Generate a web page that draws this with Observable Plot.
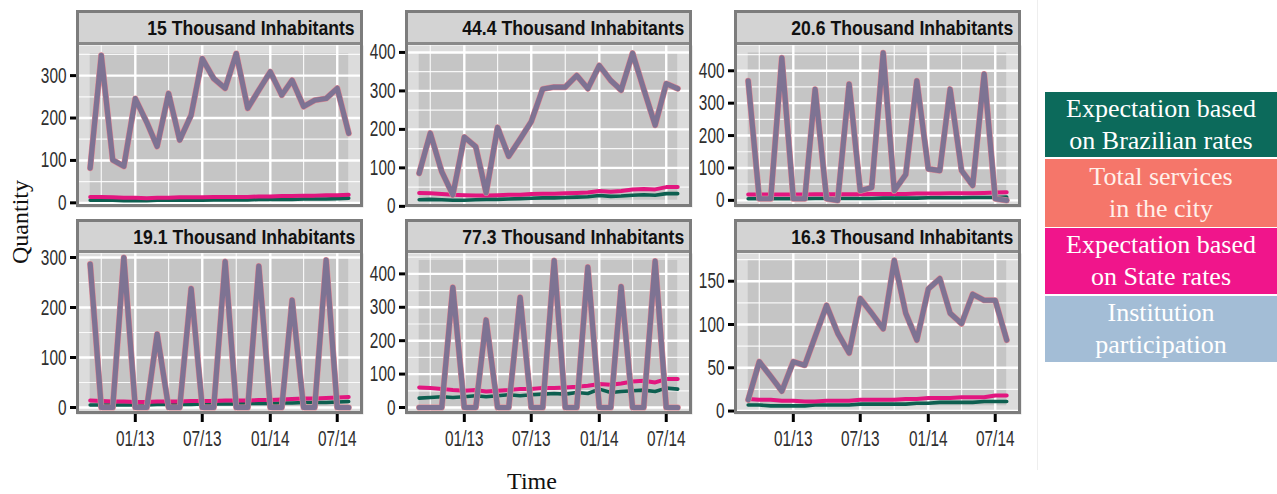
<!DOCTYPE html>
<html><head><meta charset="utf-8">
<script src="https://cdn.jsdelivr.net/npm/d3@7"></script>
<script src="https://cdn.jsdelivr.net/npm/@observablehq/plot@0.6"></script>
<style>
html,body{margin:0;padding:0;background:#fff}
body{width:1277px;height:494px;position:relative;overflow:hidden;font-family:"Liberation Sans",Arial,sans-serif}
.abs{position:absolute}
.frame{position:absolute;border:3px solid #7c7c7c;box-sizing:border-box;pointer-events:none}
.strip{position:absolute;background:#d3d3d3;box-sizing:border-box;border-bottom:3px solid #8a8a8a;text-align:right;font-weight:bold;font-size:20px;color:#111;white-space:nowrap;overflow:hidden}
.strip span{display:inline-block;transform:scaleX(0.88);transform-origin:right center}
.leg{position:absolute;left:1045px;width:232px;display:flex;align-items:center;justify-content:center;text-align:center;font-family:"Liberation Serif","Times New Roman",serif;font-size:26px;line-height:32px;color:#fff}
.title{position:absolute;font-family:"Liberation Serif","Times New Roman",serif;font-size:24px;color:#111;white-space:nowrap}
</style>
</head><body>
<script>
// ---------------- data ----------------
const months = ["2012-09","2012-10","2012-11","2012-12","2013-01","2013-02","2013-03","2013-04","2013-05","2013-06","2013-07","2013-08",
                "2013-09","2013-10","2013-11","2013-12","2014-01","2014-02","2014-03","2014-04","2014-05","2014-06","2014-07","2014-08"];
const panelTitles = ["15 Thousand Inhabitants","44.4 Thousand Inhabitants","20.6 Thousand Inhabitants",
                     "19.1 Thousand Inhabitants","77.3 Thousand Inhabitants","16.3 Thousand Inhabitants"];
const seriesNames = ["Expectation based on Brazilian rates","Total services in the city","Expectation based on State rates","Institution participation"];
const xTickLabels = ["01/13","07/13","01/14","07/14"];
const xTickMonths = ["2013-01","2013-07","2014-01","2014-07"];
const xMinorMonths = ["2012-10","2013-04","2013-10","2014-04"];

// Total services in the city (institution participation overlaps it)
const total15 = [82,348,101,86,246,190,133,258,148,207,340,293,270,352,223,266,309,254,289,227,242,246,270,164];
const total44 = [86,190,90,30,180,155,35,205,130,175,220,305,310,310,340,306,366,327,302,398,305,211,319,306];
const total20 = [369,5,5,440,5,5,343,5,0,359,30,40,455,30,80,369,97,92,343,92,46,390,5,0];
const total19 = [287,0,0,300,0,0,147,0,0,238,0,0,292,0,0,283,0,0,215,0,0,295,0,0];
const total77 = [0,0,0,360,0,0,262,0,0,330,0,0,440,0,0,420,0,0,362,0,0,438,0,0];
const total16 = [13,57,40,23,57,53,86,122,90,67,130,113,95,174,113,82,141,153,113,101,135,128,128,82];
const inst15 = [82,348,101,86,246,190,133,258,148,207,340,293,270,352,223,266,309,254,289,227,242,246,270,164];
const inst44 = [86,190,90,30,180,155,35,205,130,175,220,305,310,310,340,306,366,327,302,398,305,211,319,306];
const inst20 = [369,5,5,440,5,5,343,5,0,359,30,40,455,30,80,369,97,92,343,92,46,390,5,0];
const inst19 = [287,0,0,300,0,0,147,0,0,238,0,0,292,0,0,283,0,0,215,0,0,295,0,0];
const inst77 = [0,0,0,360,0,0,262,0,0,330,0,0,440,0,0,420,0,0,362,0,0,438,0,0];
const inst16 = [13,57,40,23,57,53,86,122,90,67,130,113,95,174,113,82,141,153,113,101,135,128,128,82];
// Expectation based on State rates
const state15 = [14,14,13,12,12,11,12,12,13,13,13,14,14,14,14,15,15,16,16,17,17,18,18,19];
const state44 = [35,34,32,30,29,28,28,29,30,30,32,33,33,34,35,36,40,38,40,44,45,44,50,50];
const state20 = [18,18,18,18,18,18,19,19,19,19,19,20,20,20,20,21,21,21,22,22,22,23,24,25];
const state19 = [14,13,12,12,11,11,12,12,12,13,13,13,14,14,14,15,15,16,17,18,18,19,20,21];
const state77 = [60,58,55,52,50,52,48,50,52,55,55,58,58,60,62,65,70,68,72,78,80,75,85,85];
const state16 = [14,13,13,12,12,11,11,12,12,12,13,13,13,13,14,14,15,15,15,16,16,16,18,18];
// Expectation based on Brazilian rates
const brazil15 = [6,6,6,5,5,5,6,6,6,6,6,7,7,7,7,8,8,8,8,9,9,9,10,11];
const brazil44 = [17,18,17,16,16,17,18,18,19,20,21,22,22,23,24,25,28,26,27,29,30,29,33,33];
const brazil20 = [5,5,5,5,5,5,6,6,6,6,6,6,7,7,7,7,8,8,8,8,9,9,9,10];
const brazil19 = [5,5,5,5,5,5,6,6,6,6,7,7,7,7,8,8,8,9,9,10,10,10,11,12];
const brazil77 = [28,30,32,30,32,35,32,35,38,35,38,40,42,40,45,42,55,45,48,50,52,48,58,55];
const brazil16 = [7,7,6,6,6,6,7,7,7,7,8,8,8,8,8,9,9,10,10,10,10,11,11,11];
const yTicksA = [0,100,200,300];
const yTicksB = [0,100,200,300,400];
const yTicksC = [0,50,100,150];
const legendColors = ["#0c6a5b","#f5766a","#f0158b","#a3bdd6"];
const lineColors = {brazil:"#0d5f50", total:"#e58a94", state:"#e2167f", inst:"#7e7393"};

// ---------------- layout ----------------
const parse = d3.utcParse("%Y-%m");
const dates = months.map(parse);
const panels = [
  {title:panelTitles[0], total:total15, inst:inst15, state:state15, brazil:brazil15, ticks:yTicksA, dom:[-11,371], L:76,  row:0},
  {title:panelTitles[1], total:total44, inst:inst44, state:state44, brazil:brazil44, ticks:yTicksB, dom:[-3,418],  L:405, row:0},
  {title:panelTitles[2], total:total20, inst:inst20, state:state20, brazil:brazil20, ticks:yTicksB, dom:[-22,478], L:734, row:0},
  {title:panelTitles[3], total:total19, inst:inst19, state:state19, brazil:brazil19, ticks:yTicksA, dom:[-14,308], L:76,  row:1},
  {title:panelTitles[4], total:total77, inst:inst77, state:state77, brazil:brazil77, ticks:yTicksB, dom:[-21,461], L:405, row:1},
  {title:panelTitles[5], total:total16, inst:inst16, state:state16, brazil:brazil16, ticks:yTicksC, dom:[-4,182],  L:734, row:1}
];
const rows = [{stripTop:10, plotTop:45, plotH:162}, {stripTop:219, plotTop:253, plotH:161}];
const W = 287;
const xDomain = [d3.utcDay.offset(dates[0], -37), d3.utcDay.offset(dates[dates.length-1], 40)];

function squish(svg, sx){
  d3.select(svg).selectAll('g[aria-label$="tick label"] text').each(function(){
    const t = this.getAttribute("transform") || "";
    const x = +this.getAttribute("x") || 0, y = +this.getAttribute("y") || 0;
    this.setAttribute("transform", `${t} translate(${x},${y}) scale(${sx},1) translate(${-x},${-y})`);
  });
}

panels.forEach(p => {
  const r = rows[p.row];
  const ml = 60, mb = p.row === 1 ? 44 : 0;
  const tidy = (arr) => arr.map((v,i) => ({date: dates[i], value: v}));
  const all = [...p.total, ...p.inst, ...p.state, ...p.brazil];
  const yMin = d3.min(all), yMax = d3.max(all);
  const step = p.ticks[1] - p.ticks[0];
  const minorY = p.ticks.map(t => t + step/2).filter(v => v < p.dom[1]);
  const marks = [
    Plot.frame({fill:"#dcdcdc", stroke:null}),
    Plot.rect([0], {x1: () => dates[0], x2: () => dates[dates.length-1], y1: () => yMin, y2: () => yMax, fill:"#c5c5c5"}),
    Plot.gridX(xMinorMonths.map(parse), {stroke:"#fff", strokeOpacity:0.85, strokeWidth:1.2}),
    Plot.gridY(minorY, {stroke:"#fff", strokeOpacity:0.85, strokeWidth:1.2}),
    Plot.gridX(xTickMonths.map(parse), {stroke:"#fff", strokeOpacity:1, strokeWidth:2.4}),
    Plot.gridY(p.ticks, {stroke:"#fff", strokeOpacity:1, strokeWidth:2.4}),
    Plot.line(tidy(p.brazil), {x:"date", y:"value", stroke:lineColors.brazil, strokeWidth:3.6}),
    Plot.line(tidy(p.state), {x:"date", y:"value", stroke:lineColors.state, strokeWidth:4}),
    Plot.line(tidy(p.total), {x:"date", y:"value", stroke:lineColors.total, strokeWidth:6.2}),
    Plot.line(tidy(p.inst), {x:"date", y:"value", stroke:lineColors.inst, strokeWidth:5.2}),
    Plot.axisY(p.ticks, {label:null, tickSize:6, tickPadding:4, stroke:"#000", strokeWidth:3, fill:"#2e2e2e", fontSize:22, fontFamily:"Liberation Sans"})
  ];
  if (p.row === 1) {
    marks.push(Plot.axisX(xTickMonths.map(parse), {label:null, tickSize:8, tickPadding:8, stroke:"#000", strokeWidth:3, fill:"#2e2e2e", fontSize:22, fontFamily:"Liberation Sans",
      tickFormat: d => xTickLabels[xTickMonths.indexOf(d3.utcFormat("%Y-%m")(d))]}));
  }
  const chart = Plot.plot({
    width: ml + W, height: r.plotH + mb,
    marginLeft: ml, marginRight: 0, marginTop: 0, marginBottom: mb,
    x: {type:"utc", domain: xDomain, axis: null, label: null},
    y: {domain: p.dom, axis: null, label: null},
    style: {background:"transparent", overflow:"visible"},
    marks
  });
  squish(chart, 0.7);
  chart.style.position = "absolute";
  chart.style.left = (p.L - ml) + "px";
  chart.style.top = r.plotTop + "px";
  document.body.appendChild(chart);

  const strip = document.createElement("div");
  strip.className = "strip";
  strip.style.left = p.L + "px"; strip.style.top = r.stripTop + "px";
  strip.style.width = W + "px"; strip.style.height = (r.plotTop - r.stripTop) + "px";
  strip.style.paddingRight = "8px"; strip.style.paddingTop = "8px"; strip.style.lineHeight = "20px";
  strip.innerHTML = `<span>${p.title}</span>`;
  document.body.appendChild(strip);

  const frame = document.createElement("div");
  frame.className = "frame";
  frame.style.left = p.L + "px"; frame.style.top = r.stripTop + "px";
  frame.style.width = W + "px"; frame.style.height = (r.plotTop + r.plotH - r.stripTop) + "px";
  document.body.appendChild(frame);
});

// axis titles
const q = document.createElement("div");
q.className = "title"; q.textContent = "Quantity";
q.style.left = "20px"; q.style.top = "222px";
q.style.transform = "translate(-50%,-50%) rotate(-90deg)";
document.body.appendChild(q);
const t = document.createElement("div");
t.className = "title"; t.textContent = "Time";
t.style.left = "532px"; t.style.top = "468px";
t.style.transform = "translateX(-50%)";
document.body.appendChild(t);

// faint separator
const sep = document.createElement("div");
sep.className = "abs"; sep.style.left = "1037px"; sep.style.top = "0px"; sep.style.width = "1px"; sep.style.height = "470px"; sep.style.background = "#eeeeee";
document.body.appendChild(sep);

// legend
const legendLines = [["Expectation based","on Brazilian rates"],["Total services","in the city"],["Expectation based","on State rates"],["Institution","participation"]];
const legendBoxes = [[92,157],[159,227],[228,294],[296,362]];
legendLines.forEach((ls,i) => {
  const d = document.createElement("div");
  d.className = "leg";
  d.style.top = legendBoxes[i][0] + "px";
  d.style.height = (legendBoxes[i][1] - legendBoxes[i][0]) + "px";
  d.style.background = legendColors[i];
  if (i === 1) d.style.color = "#fff0ea";
  d.title = seriesNames[i];
  d.innerHTML = ls.join("<br>");
  document.body.appendChild(d);
});
</script>
</body></html>
